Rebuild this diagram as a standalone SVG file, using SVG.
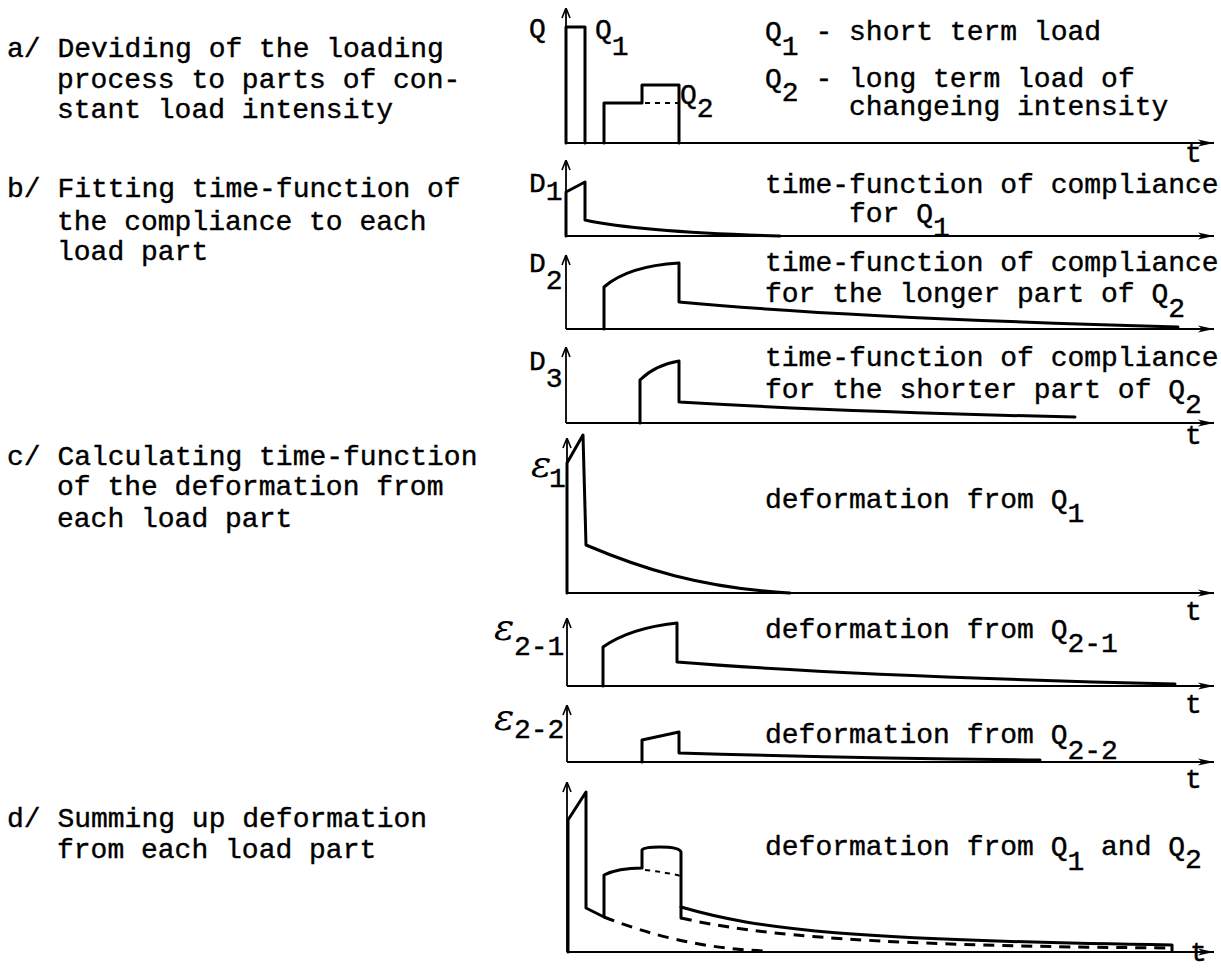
<svg xmlns="http://www.w3.org/2000/svg" width="1221" height="971" viewBox="0 0 1221 971">
<style>
.tx{font-family:"Liberation Mono","Courier New",monospace;font-size:28px;fill:#000;stroke:#000;stroke-width:0.4px}
.ep{font-family:"DejaVu Serif","Liberation Serif",serif;font-style:italic;font-size:38px;fill:#000}
.ax{fill:none;stroke:#000;stroke-width:1.8}
.up{marker-end:url(#au)}
.rt{marker-end:url(#ar)}
.cv{fill:none;stroke:#000;stroke-width:3;stroke-linejoin:round;stroke-linecap:round}
.ds{fill:none;stroke:#000;stroke-width:3;stroke-dasharray:11 8}
.dd{fill:none;stroke:#000;stroke-width:2;stroke-dasharray:5 5}
</style>
<defs>
<marker id="ar" markerUnits="userSpaceOnUse" markerWidth="18" markerHeight="10" refX="16" refY="5" orient="auto">
<path d="M0,1.5 L16,5 L0,8.5 L4,5 Z" fill="#000"/>
</marker>
<marker id="au" markerUnits="userSpaceOnUse" markerWidth="12" markerHeight="14" refX="12" refY="5" orient="auto">
<path d="M2,1 L12,5 L2,9" fill="none" stroke="#000" stroke-width="1.6"/>
</marker>
</defs>
<rect width="1221" height="971" fill="#fff"/>

<g id="steps-text">
<text class="tx" x="7" y="57">a/ Deviding of the loading</text>
<text class="tx" x="57" y="88">process to parts of con-</text>
<text class="tx" x="57" y="118">stant load intensity</text>
<text class="tx" x="7" y="197">b/ Fitting time-function of</text>
<text class="tx" x="57" y="230">the compliance to each</text>
<text class="tx" x="57" y="260">load part</text>
<text class="tx" x="7" y="465">c/ Calculating time-function</text>
<text class="tx" x="57" y="495">of the deformation from</text>
<text class="tx" x="57" y="527">each load part</text>
<text class="tx" x="7" y="827">d/ Summing up deformation</text>
<text class="tx" x="57" y="858">from each load part</text>
</g>

<g id="chart-Q">
<path class="ax up" d="M566,143 V8"/>
<path class="ax rt" d="M566,143 H1214"/>
<path class="cv" d="M566,143 V27 H585 V143"/>
<path class="cv" d="M604,143 V103 H642 V85 H679 V143"/>
<path class="dd" d="M645,103 H679"/>
<text class="tx" x="529" y="37">Q</text>
<text class="tx" x="595" y="38">Q<tspan dy="17">1</tspan></text>
<text class="tx" x="680" y="103">Q<tspan dy="14">2</tspan></text>
<text class="tx" x="1185" y="162">t</text>
<text class="tx" x="765" y="40">Q<tspan dy="15">1</tspan><tspan dy="-15"> - short term load</tspan></text>
<text class="tx" x="765" y="87">Q<tspan dy="14">2</tspan><tspan dy="-14"> - long term load of</tspan></text>
<text class="tx" x="849" y="115">changeing intensity</text>
</g>

<g id="chart-D1">
<path class="ax up" d="M566,236 V160"/>
<path class="ax rt" d="M566,236 H1214"/>
<path class="cv" d="M566,236 V192 L585,182 V220 Q640,232 780,236"/>
<text class="tx" x="529" y="192">D<tspan dy="8">1</tspan></text>
<text class="tx" x="765" y="193">time-function of compliance</text>
<text class="tx" x="849" y="222">for Q<tspan dy="14">1</tspan></text>
</g>

<g id="chart-D2">
<path class="ax up" d="M566,329 V255"/>
<path class="ax rt" d="M566,329 H1214"/>
<path class="cv" d="M604,329 V287 Q628,266 679,263 V302 Q850,318 1178,327"/>
<text class="tx" x="529" y="272">D<tspan dy="17">2</tspan></text>
<text class="tx" x="765" y="271">time-function of compliance</text>
<text class="tx" x="765" y="302">for the longer part of Q<tspan dy="15">2</tspan></text>
</g>

<g id="chart-D3">
<path class="ax up" d="M566,423 V347"/>
<path class="ax rt" d="M566,423 H1214"/>
<path class="cv" d="M640,423 V380 Q655,365 679,361 V402 Q850,412 1075,417"/>
<text class="tx" x="529" y="370">D<tspan dy="17">3</tspan></text>
<text class="tx" x="765" y="366">time-function of compliance</text>
<text class="tx" x="765" y="398">for the shorter part of Q<tspan dy="15">2</tspan></text>
<text class="tx" x="1185" y="444">t</text>
</g>

<g id="chart-e1">
<path class="ax up" d="M567,593 V438"/>
<path class="ax rt" d="M567,593 H1214"/>
<path class="cv" d="M567,593 V463 L583,435 L586,545 C640,568 700,588 790,593"/>
<text class="ep" x="531" y="477">ε</text>
<text class="tx" x="549" y="487">1</text>
<text class="tx" x="765" y="508">deformation from Q<tspan dy="14">1</tspan></text>
<text class="tx" x="1185" y="620">t</text>
</g>

<g id="chart-e21">
<path class="ax up" d="M567,686 V618"/>
<path class="ax rt" d="M567,686 H1214"/>
<path class="cv" d="M603,686 V647 Q630,628 677,623 V662 Q850,676 1175,684"/>
<text class="ep" x="494" y="640">ε</text>
<text class="tx" x="514" y="655">2-1</text>
<text class="tx" x="765" y="638">deformation from Q<tspan dy="14">2-1</tspan></text>
<text class="tx" x="1185" y="713">t</text>
</g>

<g id="chart-e22">
<path class="ax up" d="M567,762 V705"/>
<path class="ax rt" d="M567,762 H1214"/>
<path class="cv" d="M642,762 V740 L679,732 V753 Q850,758 1040,760"/>
<text class="ep" x="494" y="730">ε</text>
<text class="tx" x="514" y="738">2-2</text>
<text class="tx" x="765" y="743">deformation from Q<tspan dy="16">2-2</tspan></text>
<text class="tx" x="1185" y="788">t</text>
</g>

<g id="chart-sum">
<path class="ax up" d="M567,952 V782"/>
<path class="ax rt" d="M567,952 H1214"/>
<path class="cv" d="M568,952 V820 L586,792 V908 L604,917 V875 Q618,868 642,868 V850 Q644,847 660,847 Q679,847 681,852 V918"/>
<path class="cv" d="M681,907 C760,930 850,940 1172,945 V951"/>
<path class="ds" d="M604,917 C650,935 700,948 763,951"/>
<path class="ds" d="M681,918 C760,936 880,946 1172,948"/>
<path class="dd" d="M645,870 Q665,872 681,876"/>
<text class="tx" x="765" y="855">deformation from Q<tspan dy="15">1</tspan><tspan dy="-15"> and Q</tspan><tspan dy="13">2</tspan></text>
<text class="tx" x="1190" y="961">t</text>
</g>
</svg>
